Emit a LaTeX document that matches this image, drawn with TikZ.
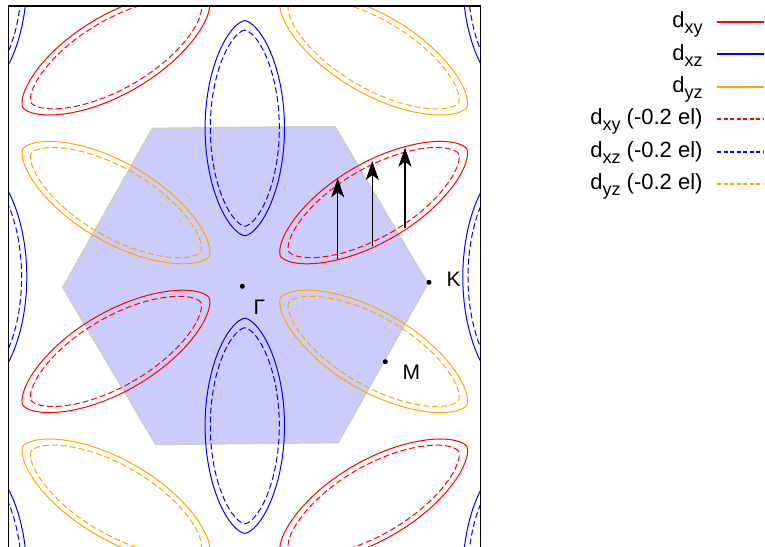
\documentclass[tikz,border=0pt]{standalone}
\usepackage{fontspec}
\setmainfont{Liberation Sans}
\usepackage{tikz}
\usetikzlibrary{arrows.meta}
\definecolor{lobeorange}{HTML}{FFA500}
\definecolor{bzfill}{RGB}{204,204,250}
\newcommand{\lowtxt}[1]{\raisebox{-6pt}{\fontsize{18}{18}\selectfont #1}}

\begin{document}
\begin{tikzpicture}[x=1pt,y=1pt,
  every node/.style={font=\fontsize{22}{22}\selectfont,inner sep=0pt},
  lobe/.style={line width=1pt},
  lobedash/.style={line width=1pt,dash pattern=on 6pt off 3pt},
  keyline/.style={line width=2pt},
  keydash/.style={line width=2pt,dash pattern=on 4pt off 2.5pt},
  kick/.style={-{Stealth[length=19pt,width=13pt,inset=5pt]},line width=1.1pt},
  dot/.style={circle,fill=black,inner sep=0pt,minimum size=5pt},
  lbl/.style={font=\fontsize{21}{21}\selectfont}]
  \useasboundingbox (-244.8,-269) rectangle (520.2,277);
  % ---- first Brillouin zone ----
  \def\hx{0.5}\def\hy{-8.5}\def\hr{182.5}
  \foreach \k in {0,...,5}{
    \coordinate (h\k) at ({\hx+\hr*cos(0.6+60*\k)},{\hy+\hr*sin(0.6+60*\k)});
  }
  \fill[bzfill,draw=gray!40,line width=1.5pt,line join=round]
    (h0)--(h1)--(h2)--(h3)--(h4)--(h5)--cycle;
  % ---- pockets at the M points, repeated over the lattice ----
  \begin{scope}
    \clip (-236.5,-280) rectangle (235.7,271);
    \def\a{107.5}\def\b{39.7}
    \def\ad{98}\def\bd{34.5}
    \foreach \i in {-3,...,3}{
      \foreach \j in {-2,...,2}{
        \pgfmathtruncatemacro\kind{2*mod(\i+6,2)+mod(\j+6,2)}
        \ifcase\kind \or\def\col{red}\def\ang{30}\or\def\col{blue}\def\ang{90}\or\def\col{lobeorange}\def\ang{150}\fi
        \ifnum\kind>0
          \begin{scope}[shift={(\j*128.85,\i*148.8+\j*74.4)},rotate=\ang]
            \draw[lobe,draw=\col] plot[domain=0:360,samples=145,variable=\t]
              ({\a*cos(\t)},{\b*sin(\t)*pow(abs(sin(\t))+0.0001,0.25)}) -- cycle;
            \draw[lobedash,draw=\col] plot[domain=0:360,samples=145,variable=\t]
              ({\ad*cos(\t)},{\bd*sin(\t)*pow(abs(sin(\t))+0.0001,0.25)}) -- cycle;
          \end{scope}
        \fi
      }
    }
  \end{scope}
  \draw[line width=1.5pt] (-236.5,-280) -- (-236.5,271) -- (235.7,271) -- (235.7,-280);
  % ---- vertical transitions ----
  \foreach \n/\ax/\ya/\yb in {1/92.9/18/98.7, 2/127.5/31/116, 3/160.2/48.7/129.3}{
    \coordinate (s\n) at (\ax,\ya);
    \coordinate (e\n) at (\ax,\yb);
    \draw[kick] (s\n) -- (e\n);
  }
  % ---- high symmetry points ----
  \node[dot] (G) at (-2.5,-9.3) {};
  \node[dot] (K) at (184.2,-5.3) {};
  \node[dot] (M) at (140.5,-84.7) {};
  \node[lbl] (Glbl) at (14.5,-30.5) {Γ};
  \node[lbl] (Klbl) at (208.9,-2.2) {K};
  \node[lbl] (Mlbl) at (166.5,-95) {M};
  % ---- key ----
  \foreach \n/\ky in {0/255, 1/223, 2/190, 3/158, 4/125, 5/93}{
    \coordinate (ls\n) at (472.2,\ky);
    \coordinate (le\n) at (519,\ky);
  }
  \node[anchor=base east] (leg0) at (457.9,249.3) {d\lowtxt{xy}};
  \node[anchor=base east] (leg1) at (457.9,216.9) {d\lowtxt{xz}};
  \node[anchor=base east] (leg2) at (457.9,184.5) {d\lowtxt{yz}};
  \node[anchor=base east] (leg3) at (457.9,152.1) {d\lowtxt{xy} (-0.2 el)};
  \node[anchor=base east] (leg4) at (457.9,119.7) {d\lowtxt{xz} (-0.2 el)};
  \node[anchor=base east] (leg5) at (457.9,87.3) {d\lowtxt{yz} (-0.2 el)};
  \draw[keyline,red] (ls0) -- (le0);
  \draw[keyline,blue] (ls1) -- (le1);
  \draw[keyline,lobeorange] (ls2) -- (le2);
  \draw[keydash,red] (ls3) -- (le3);
  \draw[keydash,blue] (ls4) -- (le4);
  \draw[keydash,lobeorange] (ls5) -- (le5);
\end{tikzpicture}
\end{document}
